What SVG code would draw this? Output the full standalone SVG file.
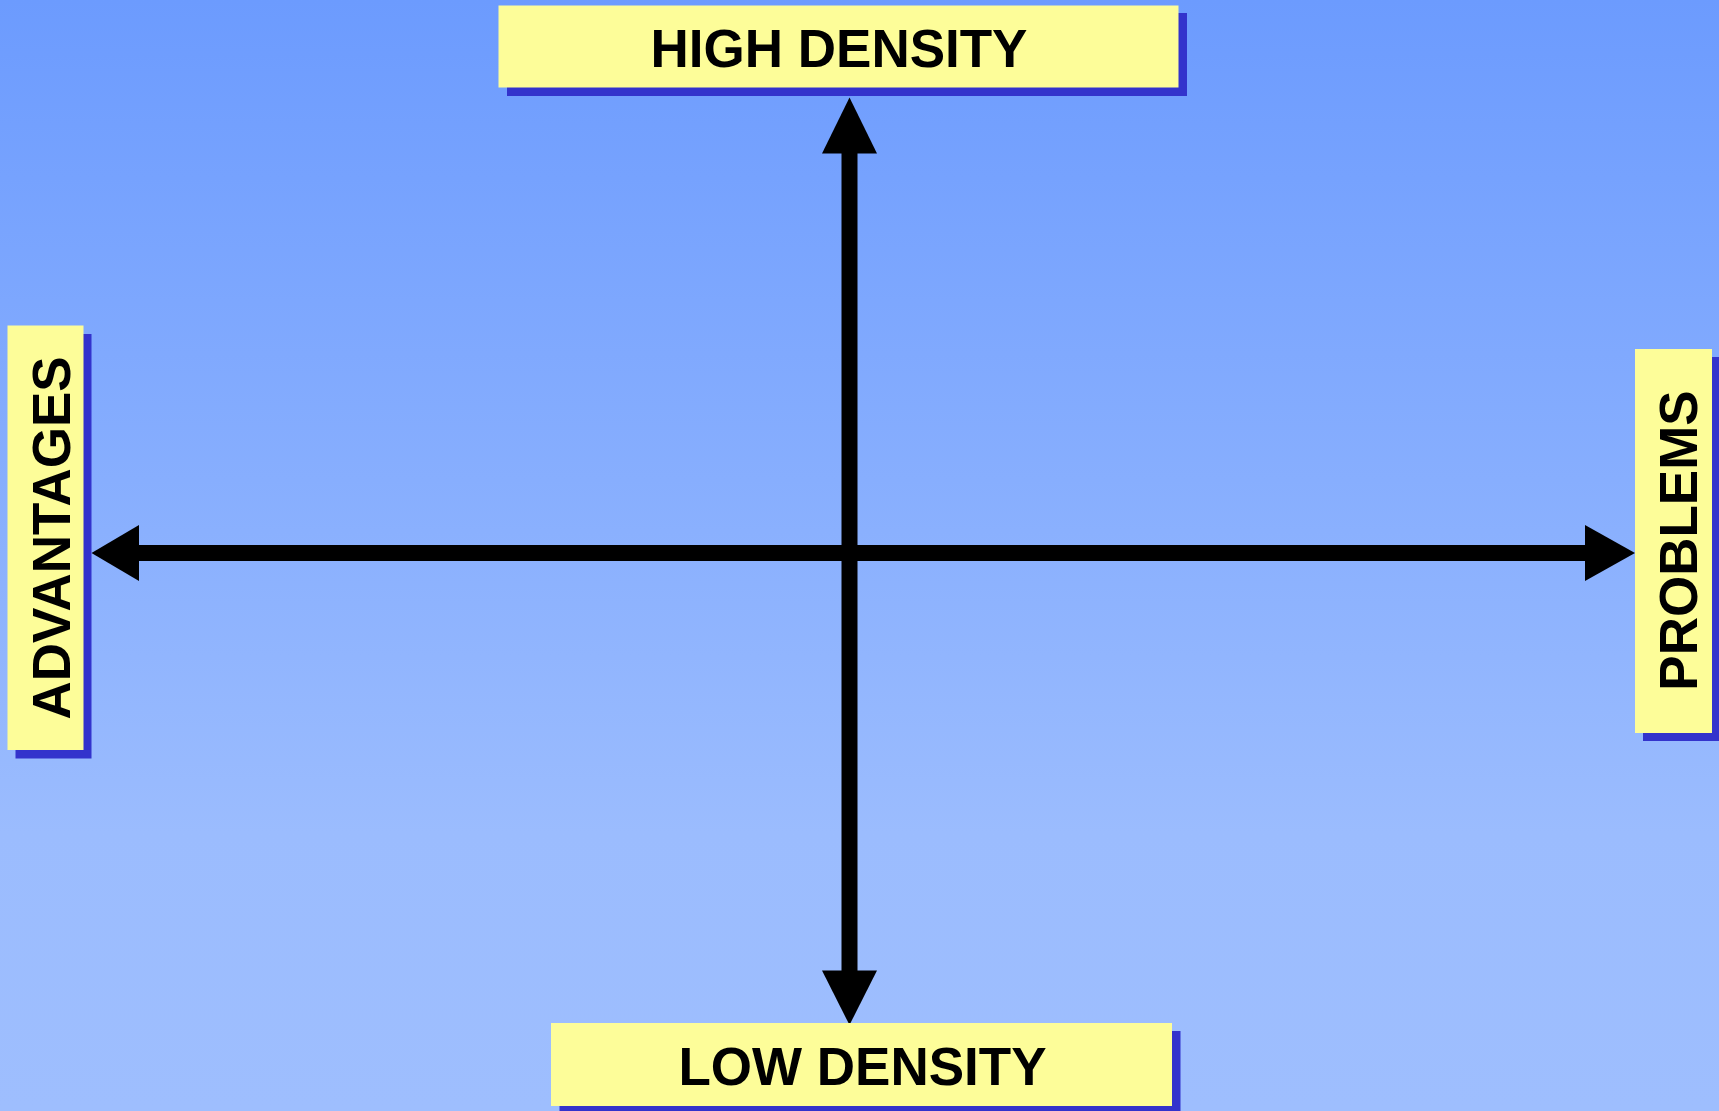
<svg xmlns="http://www.w3.org/2000/svg" width="1719" height="1111" viewBox="0 0 1719 1111">
<defs>
<linearGradient id="bg" x1="0" y1="0" x2="0" y2="1">
<stop offset="0" stop-color="#6C9BFE"/>
<stop offset="0.75" stop-color="#9BBCFE"/>
<stop offset="1" stop-color="#9EBEFE"/>
</linearGradient>
<style>
.box{fill:#FDFD99;}
.shadow{fill:#3333CC;}
.lbl{font-family:"Liberation Sans",Arial,sans-serif;font-weight:bold;font-size:53px;fill:#000;text-anchor:middle;}
.shaft{stroke:#000;stroke-width:16;fill:none;}
.head{fill:#000;}
</style>
</defs>
<rect x="0" y="0" width="1719" height="1111" fill="url(#bg)"/>
<g id="connectors">
<line class="shaft" x1="849.5" y1="150" x2="849.5" y2="974"/>
<line class="shaft" x1="136" y1="553" x2="1588" y2="553"/>
<polygon class="head" points="849.5,97.5 822,153.5 877,153.5"/>
<polygon class="head" points="849.5,1025 822,970.5 877,970.5"/>
<polygon class="head" points="91.5,553 139,525 139,581"/>
<polygon class="head" points="1635,553 1585,525 1585,581"/>
</g>
<g id="high-density">
<rect class="shadow" x="507" y="13" width="680" height="83"/>
<rect class="box" x="498.5" y="5.5" width="680" height="82"/>
<text class="lbl" x="839" y="66.5">HIGH DENSITY</text>
</g>
<g id="low-density">
<rect class="shadow" x="559.5" y="1031" width="621" height="90"/>
<rect class="box" x="551" y="1023" width="621" height="83"/>
<text class="lbl" x="862.5" y="1085">LOW DENSITY</text>
</g>
<g id="advantages">
<rect class="shadow" x="15.5" y="334" width="76" height="424.5"/>
<rect class="box" x="7.5" y="325.5" width="76" height="424.5"/>
<text class="lbl" transform="translate(70,538) rotate(-90)" x="0" y="0">ADVANTAGES</text>
</g>
<g id="problems">
<rect class="shadow" x="1643" y="357" width="80" height="384"/>
<rect class="box" x="1635" y="349" width="77" height="384"/>
<text class="lbl" transform="translate(1697,540.5) rotate(-90)" x="0" y="0">PROBLEMS</text>
</g>
</svg>
